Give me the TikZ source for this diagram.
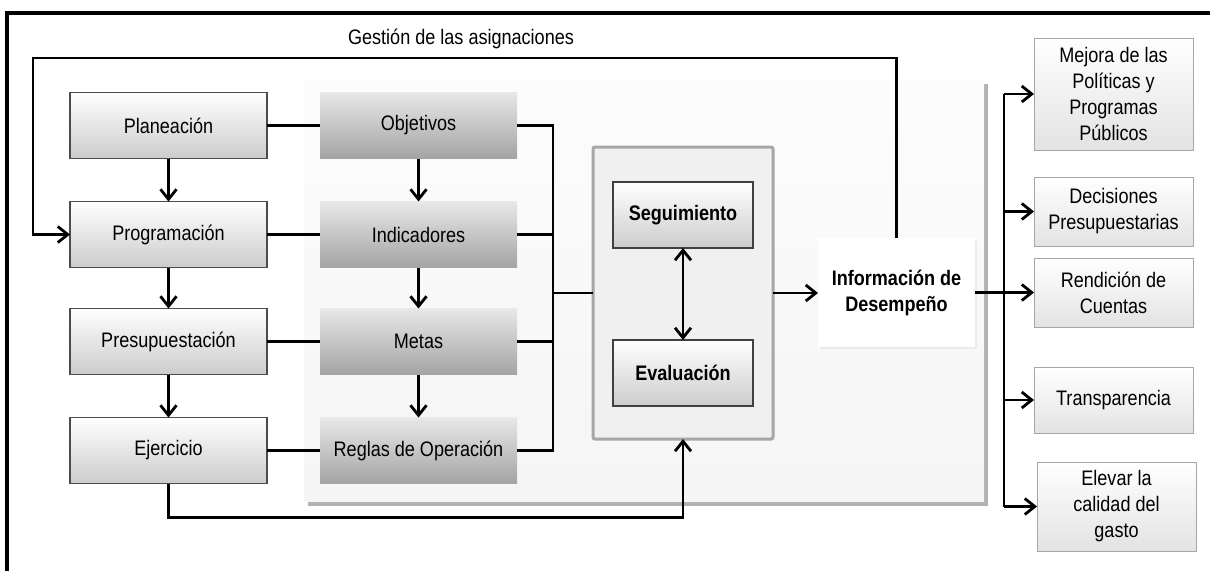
\documentclass[tikz,border=0pt]{standalone}
\usepackage{fontspec}
\setmainfont[FakeStretch=0.86]{Liberation Sans}
\usetikzlibrary{positioning}
\usetikzlibrary{arrows.meta}

\begin{document}
\begin{tikzpicture}[x=1pt,y=-1pt,>={Straight Barb[length=10pt,width=16pt]},font=\fontsize{21}{26}\selectfont,
	conn/.style={line width=2.8pt},
	leftbox/.style={minimum width=197pt,minimum height=66pt,inner sep=0pt,outer sep=0pt,draw=black!70,line width=1.3pt,top color=white,bottom color=black!20},
	midbox/.style={minimum width=197pt,minimum height=66pt,inner sep=0pt,outer sep=0pt,top color=black!9,bottom color=black!36},
	evalbox/.style={minimum width=140pt,minimum height=66pt,inner sep=0pt,outer sep=0pt,draw=black!75,line width=1.3pt,top color=white,bottom color=black!20,font=\fontsize{21}{26}\selectfont\bfseries},
	outbox/.style={minimum width=159pt,inner sep=0pt,outer sep=0pt,draw=black!35,line width=1pt,top color=white,bottom color=black!11,align=center}]
	\useasboundingbox (0,0) rectangle (1210,571);
	\fill[white] (0,0) rectangle (1210,571);

	\draw[line width=3.2pt] (7,571) -- (7,13) -- (1210,13);
	\node [inner sep=0pt] at (461,39) (gestion) {Gestión de las asignaciones};

	\fill[black!30] (308,84) rectangle (988,506);
	\shade[top color=black!1,bottom color=black!4] (304,80) rectangle (984,501);

	\node [leftbox] at (168.5,125.5) (plan) {Planeación};
	\node [leftbox,below=43pt of plan] (prog) {Programación};
	\node [leftbox,below=41pt of prog] (presup) {Presupuestación};
	\node [leftbox,below=43pt of presup] (ejer) {Ejercicio};

	\node [midbox,right=53pt of plan] (obj) {Objetivos};
	\node [midbox,right=53pt of prog] (ind) {Indicadores};
	\node [midbox,right=53pt of presup] (metas) {Metas};
	\node [midbox,right=53pt of ejer] (reglas) {Reglas de Operación};

	\node [minimum width=180pt,minimum height=292pt,outer sep=0pt,fill=black!6,draw=black!35,line width=3pt,rounded corners=2pt] at (683,293) (segeval) {};
	\node [evalbox] at (683,215) (seg) {Seguimiento};
	\node [evalbox] at (683,373) (eval) {Evaluación};

	\fill[black!8] (820,240) rectangle (977,349);
	\node [minimum width=157pt,minimum height=109pt,inner sep=0pt,outer sep=0pt,fill=white,align=center,font=\fontsize{21}{26}\selectfont\bfseries] at (896.5,292.5) (info) {Información de\\Desempeño};

	\node [outbox,minimum height=112pt] at (1113.5,94) (mejora) {Mejora de las\\Políticas y\\Programas\\Públicos};
	\node [outbox,minimum height=69pt] at (1113.5,211.5) (decis) {Decisiones\\Presupuestarias};
	\node [outbox,minimum height=69pt] at (1113.5,292.5) (rend) {Rendición de\\Cuentas};
	\node [outbox,minimum height=66pt] at (1113.5,400) (transp) {Transparencia};
	\node [outbox,minimum height=89pt] at (1116.5,506.5) (elevar) {Elevar la\\calidad del\\gasto};

	\coordinate (bus) at (553,0);
	\coordinate (outbus) at (1004,0);
	\coordinate (fb) at (33,58);

	\draw[conn,->] (plan) -- (prog);
	\draw[conn,->] (prog) -- (presup);
	\draw[conn,->] (presup) -- (ejer);
	\draw[conn,->] (obj) -- (ind);
	\draw[conn,->] (ind) -- (metas);
	\draw[conn,->] (metas) -- (reglas);

	\draw[conn] (plan) -- (obj);
	\draw[conn] (prog) -- (ind);
	\draw[conn] (presup) -- (metas);
	\draw[conn] (ejer) -- (reglas);

	\draw[conn] (obj.east) -| (bus |- reglas.east) -- (reglas.east);
	\draw[conn] (ind.east) -- (ind.east -| bus);
	\draw[conn] (metas.east) -- (metas.east -| bus);
	\draw[conn] (segeval.west -| bus) -- (segeval.west);

	\draw[conn,<->] (seg) -- (eval);
	\draw[conn,->] (segeval.east) -- (info.west |- segeval.east);
	\draw[conn,->] (ejer.south) -- ++(0,34) -| (segeval.south);
	\draw[conn,->] (info.north) |- (fb) |- (prog.west);

	\draw[conn] (info.east) -- (info.east -| outbus);
	\draw[conn] (outbus |- mejora.west) -- (outbus |- elevar.west);
	\draw[conn,->] (outbus |- mejora.west) -- (mejora.west);
	\draw[conn,->] (outbus |- decis.west) -- (decis.west);
	\draw[conn,->] (outbus |- rend.west) -- (rend.west);
	\draw[conn,->] (outbus |- transp.west) -- (transp.west);
	\draw[conn,->] (outbus |- elevar.west) -- (elevar.west);
\end{tikzpicture}
\end{document}
